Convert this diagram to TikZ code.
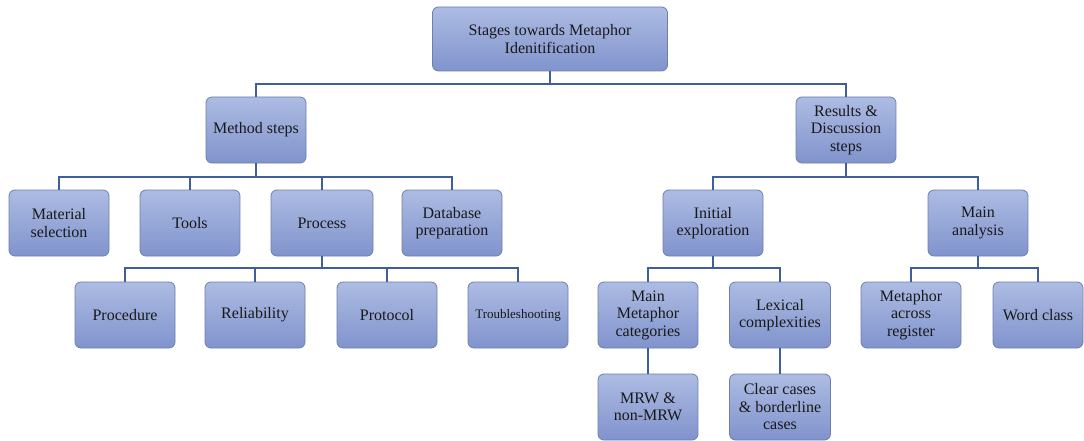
\documentclass[tikz,border=0pt]{standalone}
\usepackage{fontspec}
\setmainfont{Liberation Serif}
\definecolor{boxtop}{HTML}{ADBCE3}
\definecolor{boxbot}{HTML}{8093CC}
\definecolor{boxline}{HTML}{6E7FAE}
\definecolor{connline}{HTML}{3F5E9C}
\tikzset{
  box/.style={draw=boxline, line width=0.8pt, rounded corners=6pt, top color=boxtop, bottom color=boxbot,
    minimum width=100pt, minimum height=66pt, align=center, inner sep=2pt,
    font=\fontsize{16}{17.5}\selectfont, text=black!90},
  conn/.style={draw=connline, line width=1.4pt}
}
\begin{document}
\begin{tikzpicture}[x=1pt,y=-1pt]
\useasboundingbox[fill=white] (0,0) rectangle (1084,441);
% level 0
\node[box, minimum width=235pt, minimum height=64pt] (root) at (550,39) {Stages towards Metaphor\\Idenitification};
% level 1
\node[box] (ms) at (256,130) {Method steps};
\node[box] (rd) at (846,130) {Results \&\\Discussion\\steps};
% level 2 left
\node[box] (mat) at (59,223) {Material\\selection};
\node[box] (tools) at (190,223) {Tools};
\node[box, minimum width=102pt] (proc) at (322,223) {Process};
\node[box] (db) at (452,223) {Database\\preparation};
% level 3 left
\node[box] (pcd) at (125,315) {Procedure};
\node[box] (rel) at (255,315) {Reliability};
\node[box] (prot) at (387,315) {Protocol};
\node[box, font=\fontsize{13}{15}\selectfont] (trb) at (518,315) {Troubleshooting};
% level 2 right
\node[box] (ie) at (713,223) {Initial\\exploration};
\node[box] (ma) at (978,223) {Main\\analysis};
% level 3 right
\node[box] (mmc) at (648,315) {Main\\Metaphor\\categories};
\node[box, minimum width=101pt] (lex) at (780,315) {Lexical\\complexities};
\node[box] (mar) at (911,315) {Metaphor\\across\\register};
\node[box, minimum width=90pt] (wc) at (1038,315) {Word class};
% level 4
\node[box] (mrw) at (648,407) {MRW \&\\non-MRW};
\node[box, minimum width=101pt] (clr) at (780,407) {Clear cases\\\& borderline\\cases};
% bus coordinates
\coordinate (b0) at (550,84);
\coordinate (b1) at (256,177);
\coordinate (b2) at (322,268);
\coordinate (b3) at (713,177);
\coordinate (b4) at (713,268);
\coordinate (b5) at (978,268);
% connectors
\draw[conn] (root.south) -- (b0);
\draw[conn] (ms.north) |- (b0) -| (rd.north);
\draw[conn] (ms.south) -- (b1);
\draw[conn] (mat.north) |- (b1) -| (db.north);
\draw[conn] (tools.north) -- (tools.north |- b1);
\draw[conn] (proc.north) -- (proc.north |- b1);
\draw[conn] (proc.south) -- (b2);
\draw[conn] (pcd.north) |- (b2) -| (trb.north);
\draw[conn] (rel.north) -- (rel.north |- b2);
\draw[conn] (prot.north) -- (prot.north |- b2);
\draw[conn] (rd.south) |- (b3);
\draw[conn] (ie.north) |- (b3) -| (ma.north);
\draw[conn] (ie.south) -- (b4);
\draw[conn] (mmc.north) |- (b4) -| (lex.north);
\draw[conn] (ma.south) -- (b5);
\draw[conn] (mar.north) |- (b5) -| (wc.north);
\draw[conn] (mmc.south) -- (mrw.north);
\draw[conn] (lex.south) -- (clr.north);
\end{tikzpicture}
\end{document}
